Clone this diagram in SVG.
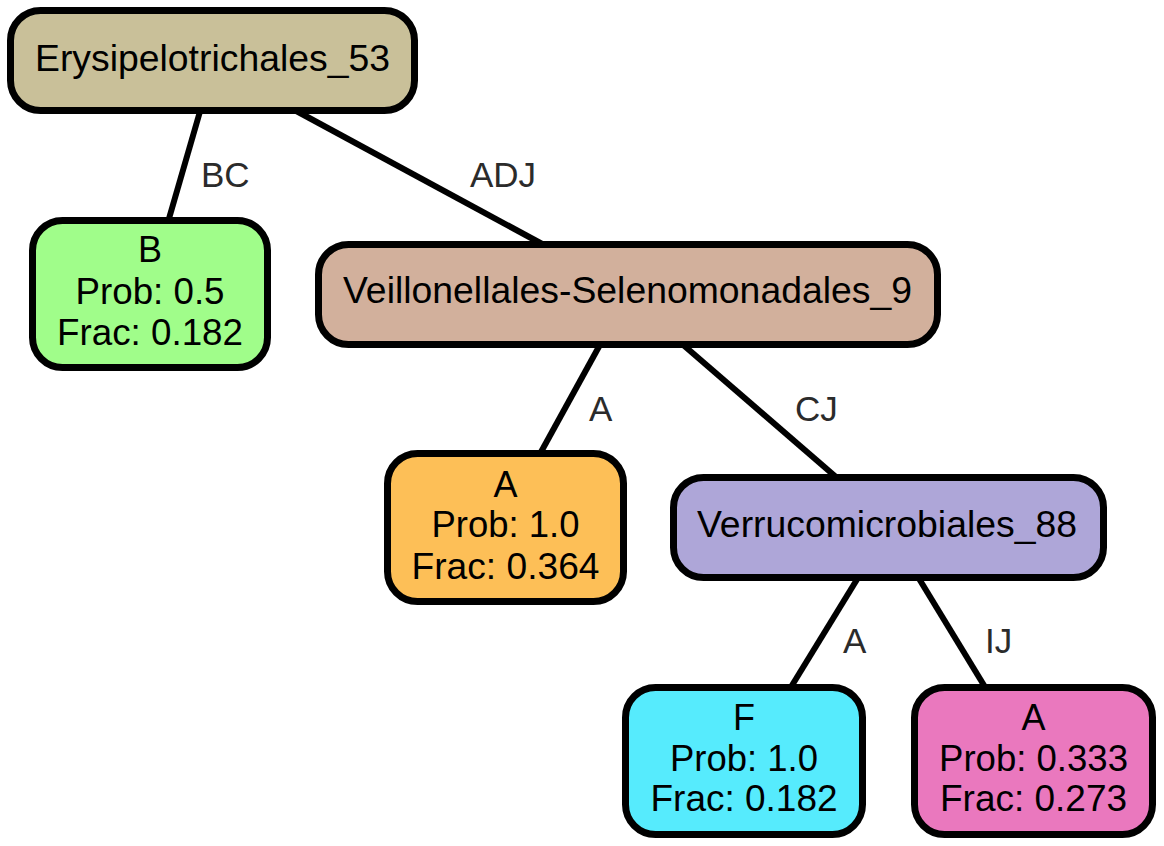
<svg xmlns="http://www.w3.org/2000/svg" width="1164" height="846" viewBox="0 0 1164 846">
<style>
.n{stroke:#000;stroke-width:7}
.t{font-family:"Liberation Sans",Arial,sans-serif;font-size:36px;fill:#000;text-anchor:middle}
.e{stroke:#000;stroke-width:6;fill:none}
.l{font-family:"Liberation Sans",Arial,sans-serif;font-size:35px;fill:#2b2b2b}
</style>
<rect width="1164" height="846" fill="#fff"/>
<g id="connectors">
<line class="e" x1="201" y1="108" x2="168" y2="222"/>
<line class="e" x1="294.5" y1="110" x2="544" y2="245"/>
<line class="e" x1="601.5" y1="342" x2="541" y2="452"/>
<line class="e" x1="681" y1="343" x2="836" y2="477"/>
<line class="e" x1="858.5" y1="577" x2="791" y2="687"/>
<line class="e" x1="918" y1="577" x2="985" y2="687"/>
<text class="l" x="201" y="187">BC</text>
<text class="l" x="470" y="187">ADJ</text>
<text class="l" x="589" y="421">A</text>
<text class="l" x="795" y="421">CJ</text>
<text class="l" x="843" y="653">A</text>
<text class="l" x="985" y="653">IJ</text>
</g>
<g id="root">
<rect class="n" x="10.5" y="10.5" width="404" height="100" rx="30" fill="#c9c099"/>
<text class="t" x="212.5" y="71" textLength="355" lengthAdjust="spacingAndGlyphs">Erysipelotrichales_53</text>
</g>
<g id="nodeB">
<rect class="n" x="32.5" y="220.5" width="235" height="147" rx="30" fill="#a0fd8a"/>
<text class="t" x="150" y="262">B</text>
<text class="t" x="150" y="304" textLength="149" lengthAdjust="spacingAndGlyphs">Prob: 0.5</text>
<text class="t" x="150" y="345" textLength="186" lengthAdjust="spacingAndGlyphs">Frac: 0.182</text>
</g>
<g id="veill">
<rect class="n" x="318.5" y="244.5" width="619" height="100" rx="30" fill="#d2b09c"/>
<text class="t" x="627.5" y="303" textLength="569" lengthAdjust="spacingAndGlyphs">Veillonellales-Selenomonadales_9</text>
</g>
<g id="nodeA1">
<rect class="n" x="387.5" y="453.5" width="236" height="148" rx="30" fill="#fdbf57"/>
<text class="t" x="505.5" y="497">A</text>
<text class="t" x="505.5" y="537" textLength="148" lengthAdjust="spacingAndGlyphs">Prob: 1.0</text>
<text class="t" x="505.5" y="579" textLength="188" lengthAdjust="spacingAndGlyphs">Frac: 0.364</text>
</g>
<g id="verruco">
<rect class="n" x="673.5" y="477.5" width="430" height="100" rx="30" fill="#aea6d8"/>
<text class="t" x="887" y="537" textLength="380" lengthAdjust="spacingAndGlyphs">Verrucomicrobiales_88</text>
</g>
<g id="nodeF">
<rect class="n" x="625.5" y="687.5" width="237" height="147" rx="30" fill="#56ebfd"/>
<text class="t" x="744" y="730">F</text>
<text class="t" x="744" y="771" textLength="148" lengthAdjust="spacingAndGlyphs">Prob: 1.0</text>
<text class="t" x="744" y="811" textLength="187" lengthAdjust="spacingAndGlyphs">Frac: 0.182</text>
</g>
<g id="nodeA2">
<rect class="n" x="914.5" y="687.5" width="238" height="147" rx="30" fill="#ea78be"/>
<text class="t" x="1033.5" y="730">A</text>
<text class="t" x="1033.5" y="771" textLength="189" lengthAdjust="spacingAndGlyphs">Prob: 0.333</text>
<text class="t" x="1033.5" y="811" textLength="187" lengthAdjust="spacingAndGlyphs">Frac: 0.273</text>
</g>
</svg>
